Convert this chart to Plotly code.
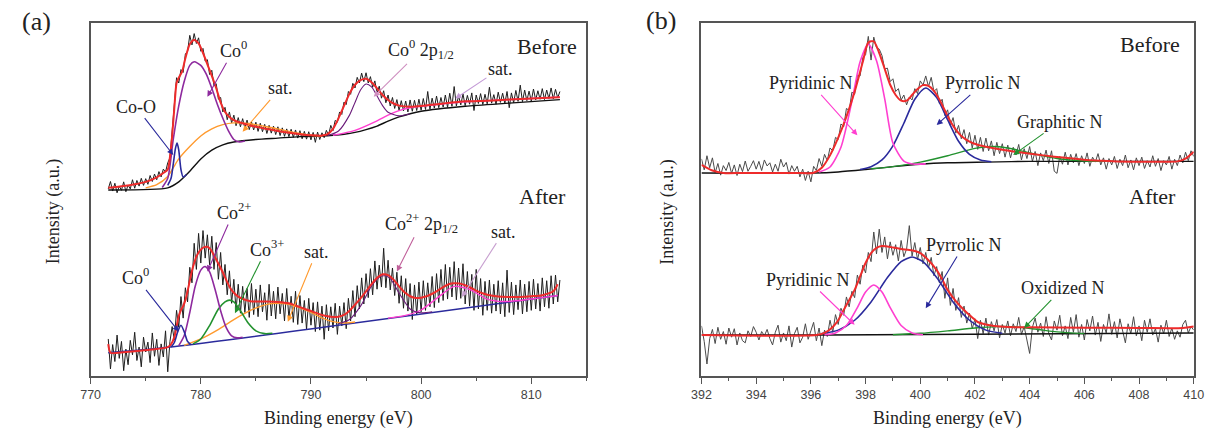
import numpy as np
import plotly.graph_objects as go

# ---------------- (a) Co 2p : raw counts, one value every 0.2 eV from 771.6 eV
co_start, co_step = 771.6, 0.2
co_before_raw = [
    53.0, 55.1, 52.4, 54.6, 51.9, 53.8, 52.6, 55.0, 52.2, 54.1,
    53.0, 55.6, 53.2, 55.4, 53.8, 56.0, 54.0, 55.9, 54.3, 56.8,
    55.1, 57.2, 55.6, 57.9, 56.4, 58.6, 57.8, 60.4, 61.8, 69.0,
    75.2, 84.5, 83.0, 86.8, 86.0, 91.2, 92.0, 96.5, 93.8, 97.0,
    94.2, 95.8, 92.0, 92.8, 89.2, 89.6, 85.4, 86.6, 82.2, 82.8,
    78.4, 78.9, 74.8, 76.1, 72.6, 74.8, 71.7, 73.9, 70.9, 73.2,
    70.6, 72.9, 70.2, 72.5, 69.8, 72.0, 69.7, 71.9, 69.3, 71.6,
    69.2, 71.3, 68.7, 71.0, 68.8, 70.8, 68.4, 70.6, 68.1, 70.3,
    67.9, 70.0, 67.8, 69.9, 67.6, 69.7, 67.4, 69.5, 67.2, 69.3,
    67.1, 69.2, 66.9, 69.0, 66.2, 69.1, 67.0, 68.9, 67.5, 69.6,
    68.2, 71.0, 69.5, 72.4, 71.9, 74.8, 74.1, 77.6, 76.9, 80.6,
    79.8, 82.9, 81.6, 84.6, 83.0, 85.8, 83.4, 85.9, 83.0, 84.8,
    81.8, 83.6, 80.2, 82.1, 78.7, 80.8, 77.4, 79.6, 76.5, 78.9,
    75.8, 78.3, 75.2, 78.0, 75.1, 77.9, 74.8, 78.2, 75.0, 78.1,
    75.2, 78.4, 75.3, 78.6, 75.5, 80.6, 75.6, 78.7, 75.9, 79.3,
    76.0, 78.9, 76.2, 79.6, 76.1, 80.1, 76.4, 82.0, 76.5, 79.4,
    76.8, 79.9, 76.6, 79.5, 77.0, 80.2, 75.2, 79.6, 77.2, 80.0,
    76.9, 79.8, 77.1, 81.8, 77.3, 79.7, 77.0, 80.4, 77.5, 80.1,
    77.2, 80.6, 76.0, 80.2, 77.4, 80.9, 77.8, 82.4, 77.7, 81.0,
    78.0, 80.7, 77.9, 81.3, 78.2, 80.8, 78.4, 81.4, 78.3, 81.0,
    78.6, 81.6, 78.5, 81.2, 78.8, 80.6,
]
co_after_raw = [
    10.5, 2.0, 8.9, 4.1, 11.6, 5.0, 9.8, 1.5, 7.6, 3.2,
    10.1, 6.0, 12.4, 4.4, 8.2, 2.6, 11.0, 6.8, 9.6, 3.8,
    12.2, 5.6, 10.4, 3.0, 9.1, 5.4, 12.8, 1.2, 9.8, 14.0,
    10.2, 18.6, 13.8, 22.5, 16.4, 25.0, 21.0, 30.8, 26.4, 37.6,
    30.2, 40.4, 32.0, 41.2, 33.4, 40.0, 31.5, 39.6, 30.2, 37.8,
    27.4, 35.0, 25.8, 31.6, 23.0, 29.8, 20.6, 27.4, 18.6, 26.0,
    17.8, 25.4, 18.0, 24.8, 16.6, 26.2, 17.4, 24.6, 16.8, 25.8,
    18.2, 23.6, 15.8, 26.0, 17.0, 24.0, 16.2, 25.2, 17.6, 23.4,
    15.6, 24.8, 16.4, 22.6, 15.2, 24.0, 14.6, 22.8, 15.0, 21.4,
    13.2, 22.0, 14.4, 20.8, 12.6, 21.0, 13.0, 19.8, 10.4, 20.2,
    12.8, 19.6, 13.6, 20.6, 11.8, 19.8, 14.2, 20.8, 13.4, 22.0,
    15.6, 24.2, 16.8, 25.6, 19.0, 27.8, 20.4, 29.0, 22.2, 30.4,
    23.0, 32.6, 24.6, 31.4, 25.2, 36.2, 25.0, 32.8, 24.4, 30.6,
    22.8, 29.4, 20.6, 28.4, 19.2, 27.6, 18.4, 26.2, 16.0, 25.8,
    17.4, 26.6, 18.2, 27.0, 18.6, 26.4, 19.6, 28.2, 19.4, 29.0,
    20.8, 30.2, 21.4, 31.6, 21.8, 30.8, 22.4, 32.4, 21.6, 30.6,
    22.0, 31.8, 20.4, 29.6, 19.8, 28.8, 18.6, 30.2, 19.0, 27.6,
    17.2, 26.8, 18.6, 27.2, 17.8, 26.0, 18.4, 27.0, 17.6, 26.4,
    16.8, 30.0, 18.0, 26.6, 17.4, 25.8, 18.8, 27.2, 17.6, 26.0,
    18.2, 26.8, 18.6, 27.4, 19.0, 26.2, 18.4, 27.8, 19.6, 27.0,
    19.2, 28.4, 20.4, 28.6, 21.0, 27.2,
]

# fitted curves, before
fitA_b_x = [771.6, 773, 774, 775, 776, 776.6, 777.0, 777.2, 777.4, 777.6,
            777.8, 778.0, 778.3, 778.6, 779.0, 779.4, 779.8, 780.2, 780.6, 781.0,
            781.4, 781.8, 782.2, 782.6, 783.0, 784, 785, 786, 787, 788,
            789, 790, 791, 791.5, 792, 792.5, 793, 793.5, 794, 794.5,
            795, 795.5, 796, 796.5, 797, 797.5, 798, 799, 800, 802,
            804, 806, 808, 810, 812.6]
fitA_b_y = [53.3, 53.8, 54.3, 55.0, 56.3, 57.5, 58.5, 62.0, 68.0, 76.0,
            83.0, 84.5, 86.2, 90.0, 94.0, 95.2, 94.2, 91.5, 88.3, 85.0,
            81.5, 77.5, 74.8, 73.4, 72.5, 71.4, 70.6, 70.0, 69.4, 68.9,
            68.5, 68.2, 68.1, 68.5, 70.0, 73.0, 76.5, 80.0, 82.5, 83.8,
            84.2, 83.2, 81.5, 79.6, 78.2, 77.2, 76.6, 76.3, 76.5, 77.2,
            77.8, 78.0, 78.3, 78.6, 79.0]
bgA_b_x = [771.6, 777.0, 778.0, 779.0, 780.0, 781.0, 782.0, 783.0, 785.0, 787.0,
           789.0, 791.0, 792.0, 793.0, 794.0, 795.0, 796.0, 797.0, 798.0, 799.0,
           800.0, 804.0, 808.0, 812.6]
bgA_b_y = [52.7, 53.3, 55.0, 58.0, 61.5, 64.0, 65.5, 66.3, 67.0, 67.4,
           67.8, 68.0, 68.2, 68.5, 69.0, 69.8, 70.8, 72.2, 73.4, 74.3,
           75.0, 76.4, 77.3, 78.3]
co0_b_x = [776.5, 777.0, 777.5, 778.0, 778.5, 779.0, 779.4, 780.0, 780.5, 781.0,
           781.5, 782.0, 782.5, 783.0, 783.5, 784.0]
co0_b_y = [53.4, 56.0, 67.0, 76.5, 83.5, 88.0, 89.0, 88.0, 85.5, 81.5,
           77.0, 73.0, 69.5, 67.0, 66.3, 66.6]
coO_b_x = [777.0, 777.3, 777.5, 777.7, 777.85, 778.0, 778.2, 778.4, 778.7]
coO_b_y = [54.0, 56.0, 60.0, 64.5, 66.0, 64.0, 58.5, 56.4, 57.1]
satA_b_x = [775, 776, 777, 777.5, 778, 779, 780, 781, 782, 783,
            784, 785, 786, 787, 788, 789, 790, 791]
satA_b_y = [53.3, 54.2, 56.5, 59.0, 61.5, 65.0, 68.0, 70.0, 71.2, 71.7,
            71.6, 71.2, 70.6, 70.0, 69.3, 68.7, 68.2, 68.0]
p12_b_x = [791.5, 792.5, 793.5, 794.0, 794.5, 795.0, 795.5, 796.0, 796.5, 797.0, 798.0, 799.0]
p12_b_y = [68.1, 69.4, 73.9, 77.5, 81.0, 82.7, 81.9, 79.3, 76.6, 74.7, 73.7, 74.3]
satB_b_x = [792.0, 794.0, 796.0, 797.0, 798.0, 799.0, 800.0, 802.0, 804.0, 806.0, 808.0, 810.0, 812.6]
satB_b_y = [68.2, 69.6, 72.3, 73.9, 75.2, 76.0, 76.4, 77.1, 77.7, 78.0, 78.3, 78.6, 79.0]

# fitted curves, after
fitA_a_x = [771.6, 771.8, 772.5, 774, 775.5, 777, 777.3, 777.6, 777.8, 778.0,
            778.2, 778.4, 778.6, 778.8, 779.0, 779.2, 779.4, 779.6, 779.8, 780.0,
            780.3, 780.6, 780.9, 781.2, 781.5, 781.8, 782.1, 782.4, 782.7, 783.0,
            783.4, 784, 784.5, 785, 786, 787, 788, 788.5, 789, 790,
            791, 791.5, 792, 792.5, 793, 793.5, 794, 794.5, 795, 795.5,
            796, 796.5, 797, 797.5, 798, 798.5, 799, 799.5, 800, 800.5,
            801, 801.5, 802, 802.5, 803, 803.5, 804, 804.5, 805, 805.5,
            806, 807, 808, 809, 810, 811, 812, 812.4]
fitA_a_y = [9.0, 6.6, 6.6, 7.0, 7.5, 8.2, 9.0, 11.0, 14.0, 17.0,
            18.7, 19.8, 21.5, 24.0, 27.0, 29.8, 32.0, 33.8, 35.0, 35.8,
            36.5, 36.6, 35.8, 34.2, 32.4, 30.6, 28.7, 26.6, 24.8, 23.6,
            22.5, 21.6, 21.2, 21.1, 21.1, 21.0, 20.6, 20.1, 19.5, 18.4,
            17.3, 16.9, 16.7, 16.8, 17.3, 18.5, 20.2, 22.0, 24.0, 26.0,
            27.8, 28.8, 28.6, 27.3, 25.4, 23.7, 22.6, 22.1, 22.2, 22.6,
            23.3, 24.2, 25.2, 26.0, 26.3, 26.2, 25.7, 25.0, 24.2, 23.5,
            23.0, 22.5, 22.4, 22.4, 22.6, 22.9, 24.0, 26.0]
bgA_a_x = [771.6, 777.5, 812.4]
bgA_a_y = [6.6, 8.3, 22.8]
co0_a_x = [777.3, 777.6, 777.9, 778.2, 778.5, 778.8, 779.1]
co0_a_y = [8.2, 9.5, 12.5, 14.4, 12.5, 9.8, 8.9]
co2_a_x = [778.0, 778.5, 779.0, 779.5, 780.0, 780.4, 780.8, 781.3, 781.8, 782.3, 782.8, 783.3, 783.8]
co2_a_y = [8.6, 11.5, 18.0, 25.5, 30.0, 31.0, 29.5, 24.5, 18.5, 13.8, 11.4, 10.8, 11.0]
co3_a_x = [779.3, 780.0, 780.8, 781.6, 782.2, 782.6, 783.0, 783.6, 784.3, 785.0, 785.8, 786.5]
co3_a_y = [9.1, 10.5, 14.3, 19.0, 21.0, 21.5, 21.0, 18.5, 15.0, 12.8, 12.0, 12.1]
satA_a_x = [778.5, 780, 781.5, 783, 784.5, 786, 787, 788, 789, 790, 791, 792, 793, 794]
satA_a_y = [8.7, 10.5, 13.0, 16.0, 18.6, 20.3, 20.6, 20.3, 19.3, 18.0, 16.5, 15.4, 15.0, 15.3]
p12_a_x = [792.5, 793.5, 794.5, 795.5, 796.2, 796.7, 797.2, 798.0, 799.0, 800.0, 801.0]
p12_a_y = [14.8, 16.0, 19.8, 25.5, 28.0, 28.4, 27.6, 23.5, 19.0, 17.9, 18.2]
satB_a_x = [797, 798.5, 800, 801.5, 803, 804.5, 806, 807.5, 809, 810.5, 812.4]
satB_a_y = [16.4, 17.1, 18.7, 22.2, 25.4, 24.4, 21.8, 21.1, 21.4, 22.0, 22.8]

# ---------------- (b) N 1s : raw counts, one value every 0.1 eV from 392.0 eV
n_start, n_step = 392.0, 0.1
n_before_raw = [
    61.5, 58.4, 62.4, 59.0, 61.8, 57.6, 60.2, 56.9, 59.6, 58.2,
    60.5, 57.4, 59.8, 56.8, 60.0, 57.9, 60.9, 58.0, 59.4, 61.0,
    58.6, 60.8, 58.2, 61.2, 59.5, 60.4, 57.8, 60.0, 58.0, 61.4,
    59.2, 60.5, 57.2, 59.6, 58.0, 59.4, 56.4, 58.6, 55.4, 58.0,
    55.0, 59.4, 58.2, 61.6, 59.4, 62.8, 61.0, 64.6, 63.8, 67.6,
    67.0, 71.4, 70.6, 75.8, 75.2, 80.4, 79.8, 85.2, 85.0, 90.2,
    91.0, 96.2, 89.5, 96.0, 93.0, 92.6, 90.8, 87.0, 87.2, 83.4,
    84.2, 80.6, 81.4, 78.2, 79.6, 76.8, 79.0, 78.2, 81.4, 80.0,
    83.6, 82.4, 85.0, 82.0, 84.6, 80.6, 81.4, 77.2, 78.4, 73.8,
    75.4, 71.0, 73.2, 68.8, 71.0, 67.2, 69.8, 65.8, 69.0, 64.6,
    68.2, 64.2, 67.6, 63.6, 67.4, 63.8, 66.6, 62.4, 66.2, 63.0,
    65.8, 62.0, 65.4, 61.8, 64.8, 62.6, 65.6, 61.2, 64.4, 61.6,
    65.0, 60.8, 63.6, 59.6, 63.2, 61.0, 64.0, 60.2, 63.8, 58.0,
    57.4, 62.2, 60.0, 63.4, 59.8, 62.8, 60.4, 63.0, 59.6, 62.4,
    60.2, 63.2, 59.4, 62.0, 60.6, 63.0, 59.8, 61.8, 58.6, 61.6,
    59.8, 62.2, 58.8, 61.4, 59.6, 62.6, 59.0, 61.2, 58.4, 61.8,
    59.6, 62.0, 58.8, 61.0, 59.2, 62.4, 59.4, 61.6, 58.2, 61.0,
    59.8, 62.2, 58.6, 61.4, 59.6, 62.6, 60.4, 63.4, 61.0, 63.8,
    62.2,
]
n_after_raw = [
    14.2, 9.8, 3.4, 10.6, 13.2, 9.2, 13.8, 10.4, 12.6, 9.0,
    13.6, 11.0, 13.4, 8.8, 12.2, 10.0, 9.4, 12.8, 11.2, 14.0,
    12.4, 10.2, 12.6, 11.4, 13.2, 10.6, 8.8, 12.4, 14.4, 9.6,
    12.2, 10.0, 14.2, 8.2, 12.0, 13.8, 9.4, 11.0, 14.8, 10.4,
    12.8, 15.2, 10.0, 13.6, 8.6, 13.0, 11.2, 15.8, 12.4, 17.4,
    14.6, 19.2, 17.2, 22.4, 19.6, 24.0, 22.2, 28.6, 26.0, 31.4,
    29.2, 35.0, 32.4, 40.8, 34.6, 41.6, 35.0, 39.4, 33.2, 38.0,
    34.2, 37.2, 32.6, 38.4, 33.8, 36.0, 42.6, 34.0, 37.8, 33.0,
    36.4, 31.8, 35.0, 30.6, 33.6, 28.4, 31.0, 26.4, 29.6, 22.0,
    27.8, 20.0, 24.8, 18.6, 22.2, 16.6, 19.8, 15.0, 17.8, 13.4,
    16.2, 10.6, 15.8, 12.0, 16.4, 11.6, 15.4, 12.8, 16.0, 10.8,
    14.6, 12.2, 15.6, 11.4, 14.8, 12.6, 16.6, 11.8, 14.0, 10.4,
    6.4, 13.8, 16.4, 12.4, 15.0, 11.2, 16.8, 12.0, 10.2, 15.6,
    13.0, 17.2, 11.4, 14.2, 10.6, 16.6, 12.4, 17.4, 11.0, 14.6,
    10.2, 16.0, 12.8, 17.0, 11.6, 15.2, 9.8, 14.6, 12.2, 17.6,
    11.8, 15.4, 10.8, 16.2, 12.6, 9.4, 14.8, 12.0, 16.8, 11.4,
    14.2, 10.0, 15.8, 12.4, 16.2, 11.6, 13.4, 9.6, 14.4, 12.0,
    15.8, 11.2, 13.6, 10.4, 12.8, 11.0, 14.6, 15.8, 12.2, 14.0,
    13.0,
]

fitN_b_x = [392.0, 392.4, 392.8, 393.5, 394.5, 395.5, 396.1, 396.4, 396.7, 397.0,
            397.3, 397.6, 397.9, 398.1, 398.3, 398.5, 398.7, 398.9, 399.1, 399.3,
            399.5, 399.7, 399.9, 400.1, 400.3, 400.5, 400.7, 400.9, 401.1, 401.3,
            401.5, 401.8, 402.1, 402.5, 403.0, 403.7, 404.5, 405.3, 406.2, 407.2,
            408.5, 409.4, 409.7, 410.0]
fitN_b_y = [59.8, 58.2, 57.5, 57.5, 57.5, 57.5, 57.6, 59.0, 62.5, 67.5,
            73.5, 80.5, 89.0, 94.5, 94.8, 91.5, 87.0, 82.5, 79.6, 78.0,
            78.0, 79.6, 81.3, 82.4, 82.2, 80.8, 78.3, 75.2, 72.2, 69.8,
            68.0, 66.4, 65.5, 64.8, 64.1, 63.3, 62.5, 61.8, 61.1, 60.8,
            60.7, 60.8, 61.6, 63.5]
bgN_b_x = [392.0, 396.1, 397.0, 398.0, 399.0, 400.0, 401.0, 402.4, 404.0, 410.0]
bgN_b_y = [57.5, 57.5, 57.8, 58.5, 59.3, 60.0, 60.4, 60.6, 60.8, 60.8]
pyd_b_x = [396.3, 396.7, 397.1, 397.5, 397.8, 398.1, 398.4, 398.7, 399.0, 399.4, 399.8, 400.2]
pyd_b_y = [57.8, 59.2, 64.8, 77.8, 89.0, 94.0, 89.3, 78.5, 66.0, 60.9, 60.0, 60.1]
pyr_b_x = [397.8, 398.2, 398.6, 399.0, 399.4, 399.8, 400.2, 400.6, 401.0, 401.4, 401.8, 402.2, 402.6]
pyr_b_y = [58.5, 59.3, 61.2, 65.2, 71.6, 78.4, 81.6, 78.9, 72.6, 66.5, 62.8, 61.2, 60.7]
gra_b_x = [398.2, 399.0, 400.0, 401.0, 402.0, 402.6, 403.2, 404.0, 405.0, 406.0, 407.0]
gra_b_y = [58.7, 59.3, 60.6, 62.4, 64.5, 65.0, 64.6, 63.2, 61.6, 60.9, 60.8]

fitN_a_x = [392.0, 396.2, 396.5, 396.8, 397.0, 397.2, 397.4, 397.6, 397.8, 398.0,
            398.2, 398.4, 398.6, 398.8, 399.0, 399.3, 399.6, 399.8, 400.0, 400.3,
            400.6, 400.8, 401.0, 401.3, 401.6, 401.9, 402.1, 402.4, 402.7, 403.2,
            404.0, 406.0, 408.0, 409.6, 410.0]
fitN_a_y = [11.6, 11.6, 12.2, 13.9, 15.8, 18.7, 21.5, 24.4, 28.2, 32.0,
            34.8, 36.3, 36.8, 36.7, 36.4, 36.0, 35.7, 35.4, 34.8, 32.8,
            30.0, 27.4, 24.4, 21.2, 18.7, 16.6, 15.3, 14.6, 14.2, 13.9,
            13.8, 13.7, 13.6, 13.6, 14.0]
bgN_a_x = [392.0, 396.5, 410.0]
bgN_a_y = [11.6, 11.6, 12.2]
pyd_a_x = [396.5, 396.9, 397.3, 397.7, 398.0, 398.3, 398.6, 398.9, 399.3, 399.7, 400.1]
pyd_a_y = [11.7, 12.2, 14.3, 19.4, 23.8, 25.8, 23.8, 19.4, 14.3, 12.2, 11.7]
pyr_a_x = [396.4, 397.0, 397.6, 398.2, 398.8, 399.3, 399.7, 400.1, 400.6, 401.2, 401.8, 402.4, 403.0]
pyr_a_y = [12.0, 13.0, 15.8, 21.0, 27.9, 32.4, 33.7, 32.4, 27.9, 21.0, 15.8, 13.0, 12.1]
oxi_a_x = [399.0, 400.0, 401.0, 402.0, 402.8, 403.5, 404.2, 405.0, 406.0]
oxi_a_y = [11.7, 12.1, 12.8, 13.6, 14.0, 13.9, 13.3, 12.5, 12.0]

SERIF = "Liberation Serif"
SANS = "Liberation Sans"
RED = "#ee2b2b"
NAVY = "#2a2a9c"
PURPLE = "#8e2a9e"
ORANGE = "#ff9a2e"
GREEN = "#23922f"
MAGENTA = "#ff3fd0"

co_x_b = np.round(co_start + co_step * np.arange(len(co_before_raw)), 2)
co_x_a = np.round(co_start + co_step * np.arange(len(co_after_raw)), 2)
n_x_b = np.round(n_start + n_step * np.arange(len(n_before_raw)), 2)
n_x_a = np.round(n_start + n_step * np.arange(len(n_after_raw)), 2)

fig = go.Figure()


def raw(x, y, ax, color, w=1.0):
    fig.add_trace(go.Scatter(x=x, y=y, mode="lines", xaxis=ax[0], yaxis=ax[1],
                             line=dict(color=color, width=w), hoverinfo="skip"))


def curve(x, y, ax, color, w=1.4):
    fig.add_trace(go.Scatter(x=x, y=y, mode="lines", xaxis=ax[0], yaxis=ax[1],
                             line=dict(color=color, width=w, shape="spline", smoothing=0.7),
                             hoverinfo="skip"))


A = ("x", "y")
B = ("x2", "y2")

# panel (a)
raw(co_x_b, co_before_raw, A, "#1e1e1e")
raw(co_x_a, co_after_raw, A, "#1e1e1e")
curve(bgA_b_x, bgA_b_y, A, "#111111")
curve(satA_b_x, satA_b_y, A, ORANGE)
curve(satB_b_x, satB_b_y, A, MAGENTA)
curve(p12_b_x, p12_b_y, A, "#6a1b7a", 1.1)
curve(co0_b_x, co0_b_y, A, PURPLE, 1.6)
curve(coO_b_x, coO_b_y, A, NAVY, 1.6)
curve(fitA_b_x, fitA_b_y, A, RED, 2.0)
curve(bgA_a_x, bgA_a_y, A, NAVY)
curve(satA_a_x, satA_a_y, A, ORANGE)
curve(satB_a_x, satB_a_y, A, MAGENTA)
curve(p12_a_x, p12_a_y, A, "#6a1b7a", 1.1)
curve(co3_a_x, co3_a_y, A, GREEN, 1.6)
curve(co2_a_x, co2_a_y, A, PURPLE, 1.6)
curve(co0_a_x, co0_a_y, A, NAVY, 1.6)
curve(fitA_a_x, fitA_a_y, A, RED, 2.0)

# panel (b)
raw(n_x_b, n_before_raw, B, "#4a4a4a", 1.0)
raw(n_x_a, n_after_raw, B, "#4a4a4a", 1.0)
curve(bgN_b_x, bgN_b_y, B, "#111111")
curve(gra_b_x, gra_b_y, B, GREEN)
curve(pyr_b_x, pyr_b_y, B, NAVY, 1.6)
curve(pyd_b_x, pyd_b_y, B, MAGENTA, 1.6)
curve(fitN_b_x, fitN_b_y, B, RED, 2.0)
curve(bgN_a_x, bgN_a_y, B, "#111111")
curve(oxi_a_x, oxi_a_y, B, GREEN)
curve(pyr_a_x, pyr_a_y, B, NAVY, 1.6)
curve(pyd_a_x, pyd_a_y, B, MAGENTA, 1.6)
curve(fitN_a_x, fitN_a_y, B, RED, 2.0)

ann = []
FS = 18


def label(ax, x, y, text, size=FS):
    ann.append(dict(xref=ax[0], yref=ax[1], x=x, y=y, text=text, showarrow=False,
                    font=dict(family=SERIF, size=size, color="#222")))


def pointer(ax, tx, ty, text, hx, hy, color):
    # label centred at (tx, ty), arrow drawn from the label to (hx, hy)
    ann.append(dict(xref=ax[0], yref=ax[1], axref=ax[0], ayref=ax[1],
                    x=hx, y=hy, ax=tx, ay=ty, text=text, showarrow=True,
                    arrowhead=2, arrowsize=1.1, arrowwidth=1.1, arrowcolor=color,
                    borderpad=1, font=dict(family=SERIF, size=FS, color="#222")))


# (a) before
pointer(A, 774.1, 76.3, "Co-O", 777.5, 62.6, NAVY)
pointer(A, 783.0, 92.4, "Co<sup>0</sup>", 780.6, 79.1, PURPLE)
pointer(A, 787.2, 81.5, "sat.", 783.8, 69.2, ORANGE)
pointer(A, 800.0, 92.4, "Co<sup>0</sup> 2p<sub>1/2</sub>", 795.7, 79.1, "#cf8fc0")
pointer(A, 807.2, 87.1, "sat.", 803.1, 78.6, "#c39ad6")
label(A, 811.4, 93.3, "Before", 22)
label(A, 811.0, 50.8, "After", 22)
# (a) after
pointer(A, 774.1, 28.1, "Co<sup>0</sup>", 778.0, 12.6, NAVY)
pointer(A, 783.0, 46.6, "Co<sup>2+</sup>", 780.6, 29.6, PURPLE)
pointer(A, 786.0, 36.2, "Co<sup>3+</sup>", 783.1, 17.8, GREEN)
pointer(A, 790.5, 35.2, "sat.", 787.9, 15.4, ORANGE)
pointer(A, 800.0, 43.3, "Co<sup>2+</sup> 2p<sub>1/2</sub>", 797.8, 29.6, "#c0609a")
pointer(A, 807.5, 40.9, "sat.", 803.7, 22.4, "#c8a0d0")

# (b)
pointer(B, 396.0, 82.9, "Pyridinic N", 397.7, 68.2, MAGENTA)
pointer(B, 402.3, 82.9, "Pyrrolic N", 400.6, 71.1, NAVY)
pointer(B, 405.1, 72.0, "Graphitic N", 403.4, 62.6, GREEN)
label(B, 408.4, 93.8, "Before", 22)
label(B, 408.5, 50.8, "After", 22)
pointer(B, 401.6, 37.1, "Pyrrolic N", 400.2, 19.2, NAVY)
pointer(B, 395.9, 27.2, "Pyridinic N", 397.6, 14.5, MAGENTA)
pointer(B, 405.2, 24.8, "Oxidized N", 403.8, 13.6, GREEN)

# panel letters and axis titles (explicitly centred: paper 'auto' anchors shift them)
for txt, x, y, size, rot in [
    ("(a)", 0.0222, 0.949, 26, 0), ("(b)", 0.5435, 0.952, 26, 0),
    ("Binding energy (eV)", 0.2742, 0.0245, 18, 0),
    ("Binding energy (eV)", 0.7826, 0.0245, 18, 0),
    ("Intensity (a.u.)", 0.0369, 0.506, 18, -90),
    ("Intensity (a.u.)", 0.549, 0.506, 18, -90),
]:
    ann.append(dict(xref="paper", yref="paper", x=x, y=y, text=txt, showarrow=False,
                    xanchor="center", yanchor="middle", textangle=rot,
                    font=dict(family=SERIF, size=size, color="#222")))

xstyle = dict(showline=True, mirror=True, linecolor="#555", linewidth=1.5,
              showgrid=False, zeroline=False, ticks="outside", ticklen=6, tickwidth=1.2,
              tickcolor="#555", tickfont=dict(family=SANS, size=12.5, color="#444"))
ystyle = dict(showline=True, mirror=True, linecolor="#555", linewidth=1.5,
              showgrid=False, zeroline=False, showticklabels=False, ticks="",
              range=[0, 100], domain=[0.1235, 0.9464])

fig.update_layout(
    width=1218, height=429, margin=dict(l=0, r=0, t=0, b=0),
    paper_bgcolor="white", plot_bgcolor="white", showlegend=False,
    xaxis=dict(xstyle, domain=[0.0673, 0.4811], range=[770, 815], tick0=770, dtick=10,
               minor=dict(tick0=770, dtick=5, ticks="outside", ticklen=3.5, tickcolor="#555"),
               anchor="y"),
    yaxis=dict(ystyle, anchor="x"),
    xaxis2=dict(xstyle, domain=[0.5772, 0.9881], range=[392, 410], tick0=392, dtick=2,
                minor=dict(tick0=392, dtick=1, ticks="outside", ticklen=3.5, tickcolor="#555"),
                anchor="y2"),
    yaxis2=dict(ystyle, anchor="x2"),
    annotations=ann,
)

# the page's default body margin would push the figure 8 px down and right
fig.write_html("out.html", config={"displayModeBar": False},
               post_script="document.body.style.margin='0';")
